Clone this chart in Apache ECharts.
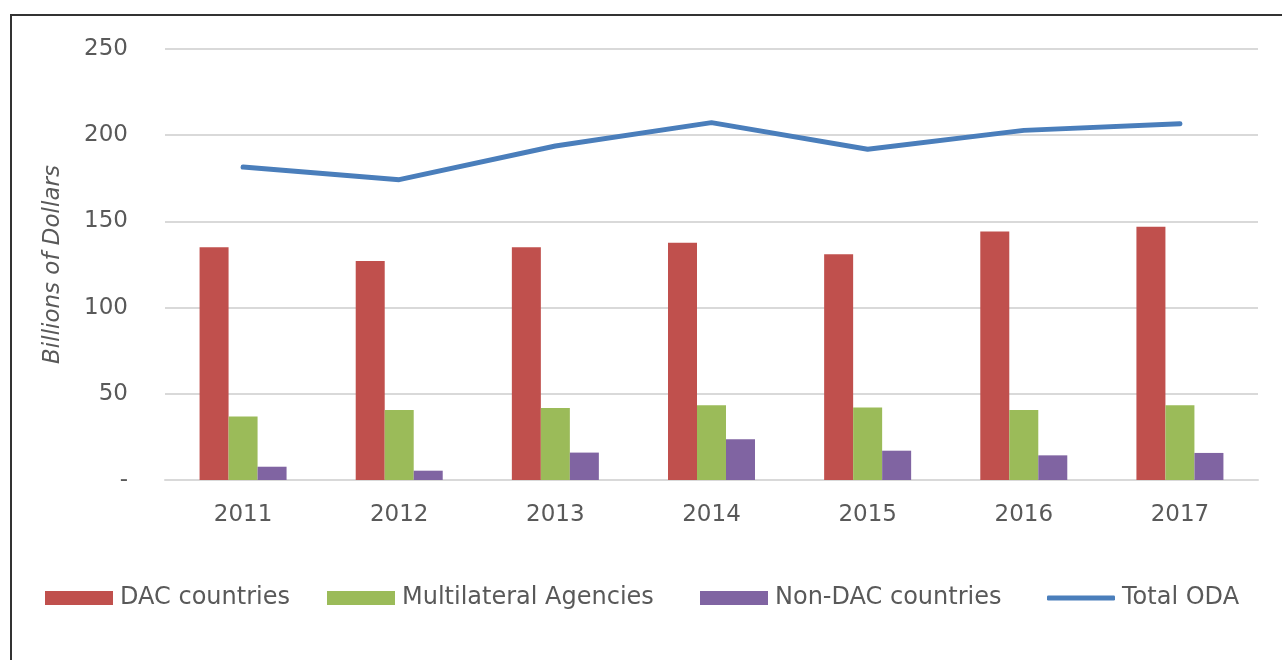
<!DOCTYPE html>
<html>
<head>
<meta charset="utf-8">
<script src="https://cdn.jsdelivr.net/npm/echarts@6/dist/echarts.min.js"></script>
<style>
  html, body { margin: 0; padding: 0; background: #fff; }
  #chart { width: 1282px; height: 660px; }
  .frame { position: absolute; left: 10px; top: 14px; right: -5px; bottom: -5px; border-top: 2px solid #333; border-left: 2px solid #333; pointer-events: none; }
</style>
</head>
<body>
<div id="chart"></div>
<div class="frame"></div>
<script>
const years = ['2011', '2012', '2013', '2014', '2015', '2016', '2017']
const dacCountries = [135.0, 127.1, 135.0, 137.6, 131.0, 144.2, 146.9]
const multilateral = [36.8, 40.6, 41.8, 43.3, 42.0, 40.6, 43.3]
const nonDac = [7.7, 5.4, 15.9, 23.6, 17.0, 14.3, 15.7]
const totalOda = [181.5, 174.2, 193.7, 207.3, 191.8, 202.8, 206.7]

const font = 'DejaVu Sans'
const textColor = '#595959'

const chart = echarts.init(document.getElementById('chart'))

// one legend per item so each sits where the original puts it
const legendAt = (name, left, icon) => ({
    data: [{ name: name, icon: icon }],
    left: left,
    top: 581,
    itemWidth: 68,
    itemHeight: icon === 'rect' ? 14 : 5,
    itemGap: 0,
    textStyle: { color: textColor, fontSize: 24, fontFamily: font, padding: [0, 0, 0, 2] }
})

chart.setOption({
    animation: false,
    color: ['#C0504D', '#9BBB59', '#8064A2', '#4A7EBB'],
    legend: [
        legendAt('DAC countries', 40, 'rect'),
        legendAt('Multilateral Agencies', 322, 'rect'),
        legendAt('Non-DAC countries', 695, 'rect'),
        legendAt('Total ODA', 1042, 'roundRect')
    ],
    grid: {
        left: 165,
        right: 24,
        top: 49,
        bottom: 180
    },
    xAxis: {
        type: 'category',
        data: years,
        axisTick: { show: false },
        axisLine: { lineStyle: { color: '#d9d9d9', width: 2 } },
        axisLabel: { color: textColor, fontSize: 23, fontFamily: font, margin: 24 }
    },
    yAxis: {
        type: 'value',
        min: 0,
        max: 250,
        interval: 50,
        name: 'Billions of Dollars',
        nameLocation: 'middle',
        nameGap: 100,
        nameTextStyle: { color: textColor, fontSize: 23, fontStyle: 'italic', fontFamily: font },
        axisLine: { show: false },
        axisTick: { show: false },
        splitLine: { lineStyle: { color: '#d9d9d9', width: 2 } },
        axisLabel: {
            color: textColor,
            fontSize: 23,
            fontFamily: font,
            margin: 37,
            formatter: v => v === 0 ? '-' : v
        }
    },
    series: [
        {
            name: 'DAC countries',
            type: 'bar',
            data: dacCountries,
            barWidth: 29,
            barGap: '0%'
        },
        {
            name: 'Multilateral Agencies',
            type: 'bar',
            data: multilateral,
            barWidth: 29,
            barGap: '0%'
        },
        {
            name: 'Non-DAC countries',
            type: 'bar',
            data: nonDac,
            barWidth: 29,
            barGap: '0%'
        },
        {
            name: 'Total ODA',
            type: 'line',
            data: totalOda,
            showSymbol: false,
            symbol: 'none',
            lineStyle: { width: 5, color: '#4A7EBB', cap: 'round' }
        }
    ]
})
</script>
</body>
</html>
